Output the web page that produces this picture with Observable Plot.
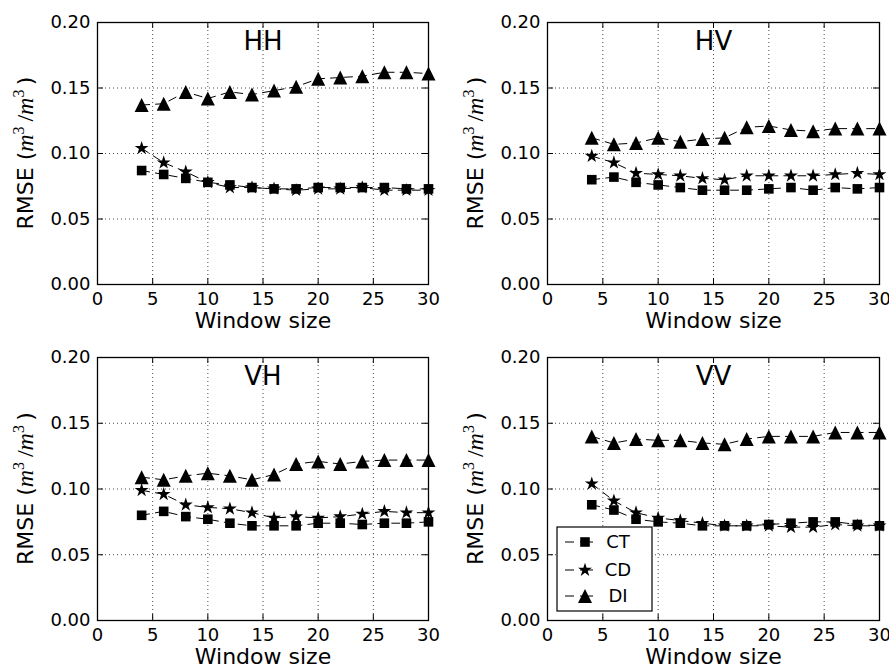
<!DOCTYPE html>
<html><head><meta charset="utf-8">
<script src="https://cdn.jsdelivr.net/npm/d3@7"></script>
<script src="https://cdn.jsdelivr.net/npm/@observablehq/plot@0.6"></script>
<style>
body{margin:0;background:#fff;}
#chart{position:relative;width:889px;height:666px;font-family:"DejaVu Sans",sans-serif;color:#000;}
#chart svg{position:absolute;overflow:visible;}
</style></head><body><div id="chart"></div>
<script>
const windowSizes = [4, 6, 8, 10, 12, 14, 16, 18, 20, 22, 24, 26, 28, 30];
const methods = ["CT", "CD", "DI"];
const xTicks = [0, 5, 10, 15, 20, 25, 30];
const yTicks = [0, 0.05, 0.10, 0.15, 0.20];

const HH_CT = [0.087, 0.084, 0.081, 0.078, 0.076, 0.074, 0.073, 0.073, 0.074, 0.074, 0.074, 0.074, 0.073, 0.073];
const HH_CD = [0.104, 0.093, 0.086, 0.078, 0.074, 0.074, 0.073, 0.072, 0.073, 0.073, 0.074, 0.072, 0.072, 0.072];
const HH_DI = [0.137, 0.138, 0.147, 0.142, 0.147, 0.145, 0.148, 0.151, 0.157, 0.158, 0.159, 0.162, 0.162, 0.161];

const HV_CT = [0.080, 0.082, 0.078, 0.076, 0.074, 0.072, 0.072, 0.072, 0.073, 0.074, 0.072, 0.074, 0.073, 0.074];
const HV_CD = [0.098, 0.093, 0.085, 0.084, 0.083, 0.081, 0.080, 0.083, 0.083, 0.083, 0.083, 0.084, 0.085, 0.084];
const HV_DI = [0.112, 0.107, 0.108, 0.112, 0.109, 0.111, 0.112, 0.120, 0.121, 0.118, 0.117, 0.119, 0.119, 0.119];

const VH_CT = [0.080, 0.083, 0.079, 0.077, 0.074, 0.072, 0.072, 0.072, 0.074, 0.074, 0.073, 0.074, 0.074, 0.075];
const VH_CD = [0.099, 0.096, 0.088, 0.086, 0.085, 0.082, 0.078, 0.079, 0.078, 0.079, 0.081, 0.083, 0.082, 0.082];
const VH_DI = [0.109, 0.107, 0.110, 0.112, 0.110, 0.107, 0.111, 0.119, 0.121, 0.119, 0.121, 0.122, 0.122, 0.122];

const VV_CT = [0.088, 0.084, 0.077, 0.075, 0.074, 0.072, 0.072, 0.072, 0.073, 0.074, 0.075, 0.075, 0.073, 0.072];
const VV_CD = [0.104, 0.091, 0.082, 0.078, 0.076, 0.074, 0.072, 0.072, 0.072, 0.071, 0.071, 0.073, 0.072, 0.072];
const VV_DI = [0.140, 0.135, 0.138, 0.137, 0.137, 0.135, 0.134, 0.138, 0.140, 0.140, 0.140, 0.143, 0.143, 0.143];

// matplotlib-like marker shapes (half extent = r)
const squareSym = {draw(c, size){const r=Math.sqrt(size/Math.PI); c.rect(-r,-r,2*r,2*r);}};
const triSym = {draw(c, size){const r=Math.sqrt(size/Math.PI); c.moveTo(0,-r); c.lineTo(r,r); c.lineTo(-r,r); c.closePath();}};
const starSym = {draw(c, size){const R=Math.sqrt(size/Math.PI), ri=R*0.381966;
  for(let i=0;i<10;i++){const a=-Math.PI/2+i*Math.PI/5, rr=i%2?ri:R; const x=rr*Math.cos(a), y=rr*Math.sin(a); i?c.lineTo(x,y):c.moveTo(x,y);} c.closePath();}};
const markerStyle = {CT:{symbol:squareSym, r:4.8}, CD:{symbol:starSym, r:7.3}, DI:{symbol:triSym, r:7}};

const panels = [
  {title:"HH", series:{CT:HH_CT, CD:HH_CD, DI:HH_DI}, left:0,   top:0,   w:444, ml:97,  mr:16, mt:22, mb:49, ylx:33, legend:false},
  {title:"HV", series:{CT:HV_CT, CD:HV_CD, DI:HV_DI}, left:444, top:0,   w:445, ml:103, mr:10, mt:22, mb:49, ylx:39, legend:false},
  {title:"VH", series:{CT:VH_CT, CD:VH_CD, DI:VH_DI}, left:0,   top:333, w:444, ml:97,  mr:16, mt:24, mb:46, ylx:33, legend:false},
  {title:"VV", series:{CT:VV_CT, CD:VV_CD, DI:VV_DI}, left:444, top:333, w:445, ml:103, mr:10, mt:24, mb:46, ylx:39, legend:true}
];

const H = 333;
const chart = document.getElementById("chart");

for (const p of panels) {
  const data = [];
  for (const m of methods) p.series[m].forEach((v, i) => data.push({w: windowSizes[i], v, m}));
  const fw = p.w - p.ml - p.mr, fh = H - p.mt - p.mb;
  const marks = [
    Plot.gridX(xTicks.slice(1, -1), {stroke:"#000", strokeOpacity:0.9, strokeWidth:0.8, strokeDasharray:"1,3"}),
    Plot.gridY(yTicks.slice(1, -1), {stroke:"#000", strokeOpacity:0.9, strokeWidth:0.8, strokeDasharray:"1,3"}),
    Plot.tickY(yTicks, {y:d=>d, insetRight: fw-6, stroke:"#000"}),
    Plot.tickY(yTicks, {y:d=>d, insetLeft: fw-6, stroke:"#000"}),
    Plot.tickX(xTicks, {x:d=>d, insetTop: fh-6, stroke:"#000"}),
    Plot.tickX(xTicks, {x:d=>d, insetBottom: fh-6, stroke:"#000"}),
    Plot.axisX(xTicks, {tickSize:0, tickPadding:8, fontSize:18, label:null, tickFormat:d=>String(d)}),
    Plot.axisY(yTicks, {tickSize:0, tickPadding:7, fontSize:18, label:null, tickFormat:d3.format(".2f")}),
    Plot.line(data, {x:"w", y:"v", z:"m", stroke:"#000", strokeWidth:1, strokeDasharray:"8,6"}),
    ...methods.map(m => Plot.dot(data.filter(d => d.m === m), {x:"w", y:"v", symbol: markerStyle[m].symbol, r: markerStyle[m].r, fill:"#000", stroke:"none"})),
    Plot.frame({stroke:"#000", strokeWidth:1.3}),
    Plot.text([p.title], {frameAnchor:"top", lineAnchor:"bottom", dy:27, fontSize:26, fill:"#000"}),
    Plot.text(["Window size"], {frameAnchor:"bottom", lineAnchor:"bottom", dy:43, fontSize:22, fill:"#000"})
  ];
  const svg = Plot.plot({
    width: p.w, height: H,
    marginLeft: p.ml, marginRight: p.mr, marginTop: p.mt, marginBottom: p.mb,
    x: {domain:[0,30]}, y: {domain:[0,0.2]},
    style: {fontFamily:"DejaVu Sans", color:"#000", background:"transparent", overflow:"visible"},
    marks
  });
  svg.style.left = p.left + "px";
  svg.style.top = p.top + "px";
  const s = d3.select(svg);
  // y label with math text
  const cy = p.mt + fh / 2;
  const t = s.append("text")
    .attr("transform", `translate(${p.ylx},${cy}) rotate(-90)`)
    .attr("text-anchor", "middle")
    .attr("font-family", "DejaVu Sans").attr("font-size", 22).attr("fill", "#000");
  t.append("tspan").text("RMSE (");
  t.append("tspan").attr("font-family", "Liberation Serif").attr("font-style", "italic").attr("font-size", 24).text("m");
  t.append("tspan").attr("font-family", "Liberation Serif").attr("font-size", 16).attr("dy", -9).text("3");
  t.append("tspan").attr("font-family", "Liberation Serif").attr("font-size", 24).attr("dy", 9).text("\u2009/");
  t.append("tspan").attr("font-family", "Liberation Serif").attr("font-style", "italic").attr("font-size", 24).text("m");
  t.append("tspan").attr("font-family", "Liberation Serif").attr("font-size", 16).attr("dy", -9).text("3");
  t.append("tspan").attr("dy", 9).text("\u2009)");

  if (p.legend) {
    const g = s.append("g");
    g.append("rect").attr("x", 113).attr("y", 194).attr("width", 95).attr("height", 84)
      .attr("fill", "#fff").attr("stroke", "#000").attr("stroke-width", 1.2);
    const rows = [209, 237, 263];
    methods.forEach((m, i) => {
      const yy = rows[i];
      g.append("line").attr("x1", 121).attr("x2", 130).attr("y1", yy).attr("y2", yy).attr("stroke", "#000");
      g.append("line").attr("x1", 136).attr("x2", 149).attr("y1", yy).attr("y2", yy).attr("stroke", "#000");
      const st = markerStyle[m];
      g.append("path").attr("transform", `translate(141,${yy})`)
        .attr("d", d3.symbol(st.symbol, Math.PI * st.r * st.r)()).attr("fill", "#000");
      g.append("text").attr("x", 174).attr("y", yy).attr("dy", "0.36em")
        .attr("font-family", "DejaVu Sans").attr("font-size", 18).attr("fill", "#000").text(m);
    });
  }
  chart.appendChild(svg);
}
</script></body></html>
